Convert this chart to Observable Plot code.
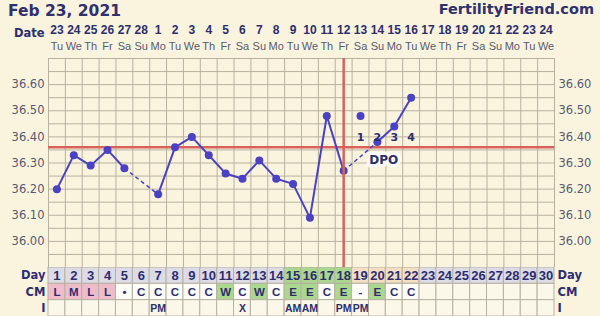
<!DOCTYPE html>
<html>
<head>
<meta charset="utf-8">
<script src="https://cdn.jsdelivr.net/npm/d3@7"></script>
<script src="https://cdn.jsdelivr.net/npm/@observablehq/plot@0.6"></script>
<style>
  html, body { margin: 0; padding: 0; background: #faf4de; }
  #chart { position: relative; width: 600px; height: 316px; overflow: hidden; background: #faf4de; font-family: "DejaVu Sans", sans-serif; }
  .title { position: absolute; font-weight: bold; color: #30306c; white-space: nowrap; }
  #cycle-start { left: 8px; top: 2px; font-size: 15.5px; }
  #site { right: 6px; top: 1px; font-size: 14.5px; }
  .part { position: absolute; left: 0; }
  .part svg { display: block; background: transparent; }
</style>
</head>
<body>
<div id="chart">
  <div class="title" id="cycle-start">Feb 23, 2021</div>
  <div class="title" id="site">FertilityFriend.com</div>
  <div class="part" id="head" style="top:22px"></div>
  <div class="part" id="main" style="top:50px"></div>
  <div class="part" id="table" style="top:267px"></div>
</div>
<script>
// Cycle calendar
const cycleDays = [1,2,3,4,5,6,7,8,9,10,11,12,13,14,15,16,17,18,19,20,21,22,23,24,25,26,27,28,29,30];
const dateLabels = ["23","24","25","26","27","28","1","2","3","4","5","6","7","8","9","10","11","12","13","14","15","16","17","18","19","20","21","22","23","24"];
const weekdays = ["Tu","We","Th","Fr","Sa","Su","Mo","Tu","We","Th","Fr","Sa","Su","Mo","Tu","We","Th","Fr","Sa","Su","Mo","Tu","We","Th","Fr","Sa","Su","Mo","Tu","We"];

// Basal body temperatures (°C); null = no reading
const tempDays = [1,2,3,4,5,6,7,8,9,10,11,12,13,14,15,16,17,18,19,20,21,22];
const temps = [36.20,36.33,36.29,36.35,36.28,null,36.18,36.36,36.40,36.33,36.26,36.24,36.31,36.24,36.22,36.09,36.48,36.27,36.48,36.38,36.44,36.55];
const discardedDays = [19];

const coverline = 36.36;
const ovulationDay = 18;
const fertileDays = [15,16,17,18];

// Cervical mucus and intercourse records
const cmValues = ["L","M","L","L","•","C","C","C","C","C","W","C","W","C","E","E","C","E","-","E","C","C"];
const intercourseDays = [7,12,15,16,18,19];
const intercourseLabels = ["PM","X","AM","AM","PM","PM"];

const yTickLabels = [36.00,36.10,36.20,36.30,36.40,36.50,36.60];
const tableRows = ["Day","CM","I"];

// Palette and fonts
const gridColor = "#b7b1a0";
const blue = "#4a42c2";
const red = "#d9625d";
const navy = "#2e2e6e";
const tickColor = "#575a70";
const font = "DejaVu Sans";
const cellFont = "Liberation Sans";

const xBand = {type: "band", domain: cycleDays, padding: 0, round: false, axis: null};
const frameX = {width: 600, marginLeft: 48, marginRight: 46};

// ---- Date header ----
const head = Plot.plot({
  ...frameX, height: 32, marginTop: 0, marginBottom: 0,
  style: {fontFamily: font, background: "transparent"},
  x: xBand,
  y: {type: "band", domain: ["date", "wd"], padding: 0, round: false, axis: null},
  marks: [
    Plot.text(cycleDays, {x: d => d, y: () => "date", text: (d, i) => dateLabels[i],
      fontFamily: cellFont, fontWeight: "bold", fontSize: 12, fill: navy}),
    Plot.text(cycleDays, {x: d => d, y: () => "wd", text: (d, i) => weekdays[i],
      fontFamily: cellFont, fontSize: 11, fill: tickColor}),
    Plot.text(["Date"], {frameAnchor: "left", y: () => "date", text: d => d, textAnchor: "end",
      dx: -4, dy: 3, fontWeight: "bold", fontSize: 11.5, fill: navy})
  ]
});
document.getElementById("head").appendChild(head);

// ---- Temperature chart ----
const readings = tempDays
  .map((day, i) => ({day, temp: temps[i], discarded: discardedDays.includes(day)}))
  .filter(d => d.temp != null);
const charted = readings.filter(d => !d.discarded);
const segments = d3.pairs(charted).map(([a, b]) => ({x1: a.day, y1: a.temp, x2: b.day, y2: b.temp, gap: b.day - a.day > 1}));
const columnEdges = [0, ...cycleDays].map(d => d + 0.5);
const gridLevels = d3.range(0, 17).map(i => +(35.90 + i * 0.05).toFixed(2));

const main = Plot.plot({
  ...frameX, height: 225, marginTop: 8, marginBottom: 8,
  style: {fontFamily: font, background: "transparent"},
  x: {domain: [0.5, 30.5], axis: null},
  y: {domain: [35.90, 36.70]},
  marks: [
    Plot.gridY(gridLevels, {stroke: gridColor, strokeOpacity: 1}),
    Plot.gridX(columnEdges, {stroke: gridColor, strokeOpacity: 1}),
    Plot.axisY(yTickLabels, {anchor: "left", tickSize: 0, tickPadding: 4, tickFormat: ".2f",
      label: null, fontSize: 11.5, fill: tickColor}),
    Plot.axisY(yTickLabels, {anchor: "right", tickSize: 0, tickPadding: 4, tickFormat: ".2f",
      label: null, fontSize: 11.5, fill: tickColor}),
    Plot.ruleY([coverline], {stroke: red, strokeWidth: 2.5}),
    Plot.link(segments.filter(s => !s.gap), {x1: "x1", y1: "y1", x2: "x2", y2: "y2",
      stroke: blue, strokeWidth: 2}),
    Plot.link(segments.filter(s => s.gap), {x1: "x1", y1: "y1", x2: "x2", y2: "y2",
      stroke: blue, strokeWidth: 1.5, strokeDasharray: "4,3"}),
    Plot.dot(readings, {x: "day", y: "temp", r: 4, fill: blue}),
    Plot.ruleX([ovulationDay], {stroke: red, strokeWidth: 2.5}),
    Plot.text(readings.filter(d => d.day > ovulationDay), {x: "day", y: () => coverline,
      text: d => String(d.day - ovulationDay), dy: -10, fontWeight: "bold", fontSize: 11, fill: navy}),
    Plot.text(["DPO"], {x: () => ovulationDay, y: () => coverline, text: d => d, dx: 40, dy: 13,
      fontWeight: "bold", fontSize: 12, fill: navy, stroke: "#fdfbf3", strokeWidth: 7})
  ]
});
document.getElementById("main").appendChild(main);

// ---- Day / CM / I table ----
const lastReading = d3.max(tempDays);
const dayFill = d => fertileDays.includes(d) ? "#a9d88e"
  : (d > ovulationDay && d <= lastReading) ? "#f3dfc4" : "#dcdbe6";
const cmFill = v => v == null ? "#fbf8ea"
  : (v === "L" || v === "M" || v === "H") ? "#f0bccb"
  : (v === "W" || v === "E") ? "#a9d88e" : "#fdfcf6";

const cells = cycleDays.flatMap((d, i) => [
  {day: d, row: "Day", fill: dayFill(d), text: String(d)},
  {day: d, row: "CM", fill: cmFill(cmValues[i]), text: cmValues[i] ?? ""},
  {day: d, row: "I", fill: "#fbf8ea",
    text: intercourseDays.includes(d) ? intercourseLabels[intercourseDays.indexOf(d)] : ""}
]);

const table = Plot.plot({
  ...frameX, height: 49, marginTop: 0, marginBottom: 0,
  style: {fontFamily: font, background: "transparent"},
  x: xBand,
  y: {type: "band", domain: tableRows, padding: 0, round: false, axis: null},
  color: {type: "identity"},
  marks: [
    Plot.cell(cells, {x: "day", y: "row", fill: "fill", stroke: gridColor, strokeWidth: 1}),
    Plot.text(cells.filter(c => c.row === "Day"), {x: "day", y: "row", text: "text",
      fontFamily: cellFont, fontWeight: "bold", fontSize: 13, fill: navy}),
    Plot.text(cells.filter(c => c.row === "CM"), {x: "day", y: "row", text: "text",
      fontFamily: cellFont, fontWeight: "bold", fontSize: 11.5, fill: navy}),
    Plot.text(cells.filter(c => c.row === "I"), {x: "day", y: "row", text: "text",
      fontFamily: cellFont, fontWeight: "bold", fontSize: 10.5, fill: navy}),
    Plot.text(tableRows, {frameAnchor: "left", y: d => d, text: d => d, textAnchor: "end", dx: -3,
      fontWeight: "bold", fontSize: 11.5, fill: navy}),
    Plot.text(tableRows, {frameAnchor: "right", y: d => d, text: d => d, textAnchor: "start", dx: 3,
      fontWeight: "bold", fontSize: 11.5, fill: navy})
  ]
});
document.getElementById("table").appendChild(table);
</script>
</body>
</html>
